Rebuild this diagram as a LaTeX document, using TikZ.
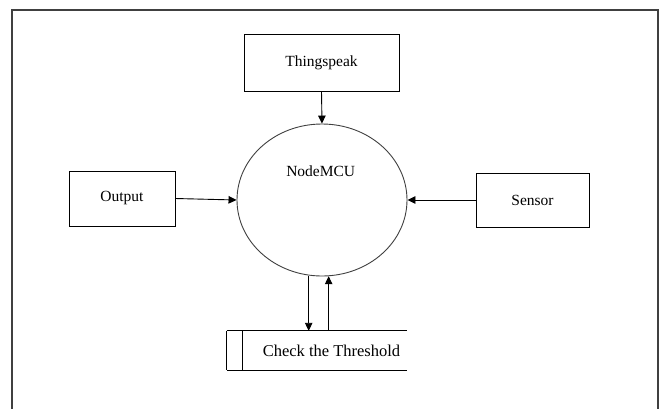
\documentclass[tikz,border=0pt]{standalone}
\usepackage{fontspec}
\setmainfont{Liberation Serif}
\usetikzlibrary{shapes.geometric,arrows.meta}
\begin{document}
\begin{tikzpicture}[x=1pt,y=-1pt,
  box/.style={draw=black,line width=0.9pt,rectangle,inner sep=0pt,font=\fontsize{15.5}{18}\selectfont},
  proc/.style={draw=black!75,line width=0.9pt,ellipse,inner sep=0pt,minimum width=170pt,minimum height=152pt},
  lbl/.style={inner sep=0pt,font=\fontsize{15.5}{18}\selectfont},
  flow/.style={line width=0.9pt,-{Triangle[length=8pt,width=7.5pt]}},
  frame/.style={draw=black!75,line width=1.5pt}]
\useasboundingbox (0,0) rectangle (659,408);
\fill[white] (0,0) rectangle (659,408);
\coordinate (fbl) at (12,410);
\coordinate (ftl) at (12,10);
\coordinate (ftr) at (658,10);
\coordinate (fbr) at (658,410);
\draw[frame] (fbl) -- (ftl) -- (ftr) -- (fbr);
\node[box,minimum width=155pt,minimum height=57pt] (thing) at (321.5,62.5) {Thingspeak};
\node[proc] (mcu) at (322,200) {};
\node[lbl] (mcul) at (320.7,171) {NodeMCU};
\node[box,minimum width=106pt,minimum height=55pt] (out) at (122,198.5) {Output};
\node[box,minimum width=113pt,minimum height=54pt] (sens) at (532.5,200) {Sensor};
\node[inner sep=0pt,minimum width=180pt,minimum height=39pt] (store) at (317,350.5) {};
\node[lbl,font=\fontsize{16.5}{19}\selectfont] (storet) at (331.5,351) {Check the Threshold};
\draw[line width=0.9pt] (store.north west) -- (store.north east);
\draw[line width=0.9pt] (store.south west) -- (store.south east);
\draw[line width=0.9pt] (store.north west) -- (store.south west);
\draw[line width=0.9pt] ([xshift=16pt]store.north west) -- ([xshift=16pt]store.south west);
\draw[flow] (thing.south) -- (mcu.north);
\draw[flow] (out.east) -- (mcu.west);
\draw[flow] (sens.west) -- (mcu.east);
\draw[flow] (mcu.-100.5) -- (mcu.-100.5 |- store.north);
\draw[flow] (mcu.-85.5 |- store.north) -- (mcu.-85.5);
\end{tikzpicture}
\end{document}
